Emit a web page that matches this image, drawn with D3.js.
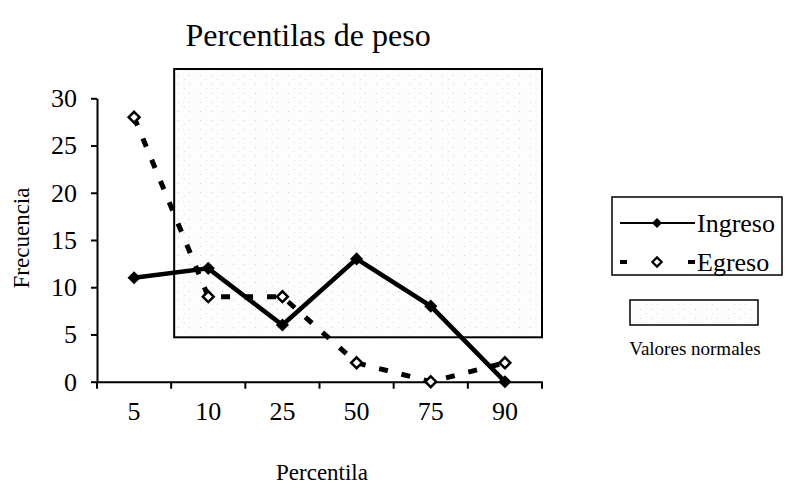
<!DOCTYPE html>
<html>
<head>
<meta charset="utf-8">
<script src="https://cdn.jsdelivr.net/npm/d3@7"></script>
<style>
  body { margin: 0; background: #fff; }
  svg { font-family: "Liberation Serif", "Times New Roman", serif; }
</style>
</head>
<body>
<svg width="785" height="493"></svg>
<script>
// data
const percentilas = ['5', '10', '25', '50', '75', '90'];
const ingreso = [11, 12, 6, 13, 8, 0];
const egreso = [28, 9, 9, 2, 0, 2];
const yTicks = [0, 5, 10, 15, 20, 25, 30];
// band of normal values (from category "10" to the end of the axis)
const normalFrom = '10';
const normalLow = 4.7;
const normalHigh = 33.1;

const svg = d3.select('svg');

const x = d3.scaleBand().domain(percentilas).range([97, 542]).padding(0);
const y = d3.scaleLinear().domain([0, 30]).range([381.7, 98.3]);
const cx = d => x(d) + x.bandwidth() / 2;

// light stipple for the normal band
const defs = svg.append('defs');
const pat = defs.append('pattern')
  .attr('id', 'stipple').attr('width', 11).attr('height', 9)
  .attr('patternUnits', 'userSpaceOnUse');
pat.append('rect').attr('width', 11).attr('height', 9).attr('fill', '#fdfdfd');
pat.append('rect').attr('x', 2).attr('y', 3).attr('width', 1).attr('height', 1).attr('fill', '#cfcfcf');
pat.append('rect').attr('x', 8).attr('y', 7).attr('width', 1).attr('height', 1).attr('fill', '#e4e4e4');

// title
svg.append('text')
  .attr('x', 308).attr('y', 46)
  .attr('text-anchor', 'middle')
  .style('font-size', '32px')
  .text('Percentilas de peso');

// normal values rectangle
svg.append('rect')
  .attr('x', x(normalFrom) + 3)
  .attr('y', y(normalHigh))
  .attr('width', x.range()[1] - x(normalFrom) - 3)
  .attr('height', y(normalLow) - y(normalHigh))
  .attr('fill', 'url(#stipple)')
  .attr('stroke', '#000')
  .attr('stroke-width', 2);

// axes
const yAxis = svg.append('g')
  .attr('transform', `translate(${x.range()[0]},0)`)
  .call(d3.axisLeft(y).tickValues(yTicks).tickSize(6).tickSizeOuter(0).tickPadding(14));
yAxis.select('.domain').attr('stroke-width', 2);
yAxis.selectAll('.tick line').attr('stroke-width', 2);
yAxis.selectAll('.tick text').style('font-size', '26px').style('font-family', 'Liberation Serif').attr('fill', '#000');

const xAxis = svg.append('g')
  .attr('transform', `translate(0,${y(0)})`)
  .call(d3.axisBottom(x).tickSize(0).tickSizeOuter(0).tickPadding(20));
xAxis.select('.domain').attr('stroke-width', 2);
xAxis.selectAll('.tick text').style('font-size', '26px').style('font-family', 'Liberation Serif').attr('fill', '#000');
// tick marks between categories
const bounds = percentilas.map(d => x(d)).concat([x.range()[1]]);
xAxis.selectAll('.sep').data(bounds).enter().append('line')
  .attr('x1', d => d).attr('x2', d => d)
  .attr('y1', 0).attr('y2', 7)
  .attr('stroke', '#000').attr('stroke-width', 2);

// axis titles
svg.append('text')
  .attr('transform', 'translate(29,238) rotate(-90)')
  .attr('text-anchor', 'middle')
  .style('font-size', '23px')
  .text('Frecuencia');
svg.append('text')
  .attr('x', 322).attr('y', 480)
  .attr('text-anchor', 'middle')
  .style('font-size', '23px')
  .text('Percentila');

const line = d3.line().x((d, i) => cx(percentilas[i])).y(d => y(d));
const diamond = d3.symbol().type(d3.symbolDiamond2);

// Egreso (dashed, open diamonds)
svg.append('path')
  .datum(egreso)
  .attr('d', line)
  .attr('fill', 'none')
  .attr('stroke', '#000')
  .attr('stroke-width', 5)
  .attr('stroke-dasharray', '9,14');
svg.selectAll('.eg').data(egreso).enter().append('path')
  .attr('transform', (d, i) => `translate(${cx(percentilas[i])},${y(d)})`)
  .attr('d', diamond.size(75))
  .attr('fill', '#fff')
  .attr('stroke', '#000')
  .attr('stroke-width', 2.5);

// Ingreso (solid, filled diamonds)
svg.append('path')
  .datum(ingreso)
  .attr('d', line)
  .attr('fill', 'none')
  .attr('stroke', '#000')
  .attr('stroke-width', 4.5);
svg.selectAll('.in').data(ingreso).enter().append('path')
  .attr('transform', (d, i) => `translate(${cx(percentilas[i])},${y(d)})`)
  .attr('d', diamond.size(110))
  .attr('fill', '#000');

// legend
const lg = svg.append('g');
lg.append('rect')
  .attr('x', 612).attr('y', 197).attr('width', 170).attr('height', 78)
  .attr('fill', '#fff').attr('stroke', '#000').attr('stroke-width', 1.5);
lg.append('line')
  .attr('x1', 620).attr('x2', 695).attr('y1', 223).attr('y2', 223)
  .attr('stroke', '#000').attr('stroke-width', 2);
lg.append('path')
  .attr('transform', 'translate(657,223)')
  .attr('d', diamond.size(65)).attr('fill', '#000');
lg.append('text').attr('x', 697).attr('y', 232).style('font-size', '26px').text('Ingreso');

lg.append('line')
  .attr('x1', 620).attr('x2', 695).attr('y1', 262).attr('y2', 262)
  .attr('stroke', '#000').attr('stroke-width', 4)
  .attr('stroke-dasharray', '7,61,7');
lg.append('path')
  .attr('transform', 'translate(657,262)')
  .attr('d', diamond.size(55)).attr('fill', '#fff')
  .attr('stroke', '#000').attr('stroke-width', 2.2);
lg.append('text').attr('x', 697).attr('y', 271).style('font-size', '26px').text('Egreso');

lg.append('rect')
  .attr('x', 630).attr('y', 300).attr('width', 128).attr('height', 25)
  .attr('fill', 'url(#stipple)').attr('stroke', '#000').attr('stroke-width', 1.5);
lg.append('text').attr('x', 695).attr('y', 355)
  .attr('text-anchor', 'middle').style('font-size', '19px').text('Valores normales');
</script>
</body>
</html>
